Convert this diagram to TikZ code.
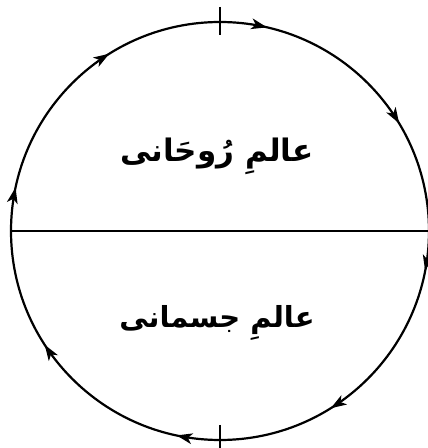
\documentclass[tikz,border=0pt]{standalone}
\usepackage{fontspec}
\newfontfamily\arabicfont[Script=Arabic]{DejaVu Sans}
\TeXXeTstate=1
\begin{document}
\begin{tikzpicture}[x=1pt,y=1pt,
  ring/.style={circle,draw,line width=2.2pt,minimum size=418pt,inner sep=0pt,outer sep=0pt},
  rule/.style={line width=1.6pt},
  headfill/.style={fill=black},
  urdu/.style={font=\arabicfont\bfseries\fontsize{31}{38}\selectfont,inner sep=0pt}]
\useasboundingbox (0,0) rectangle (428,448);
\node[ring] (c) at (220,217) {};
\draw[rule] (c.west) -- (c.east);
\draw[rule] ([yshift=15pt]c.north) -- ([yshift=-13pt]c.north);
\draw[rule] ([yshift=15pt]c.south) -- ([yshift=-12pt]c.south);
\foreach \a in {77,122,168,31,-11,-58,-102,-147}{
  \coordinate (tip) at (c.\a);
  \fill[headfill,shift={(tip)},rotate=\a-90] (0,0) -- (-16,5.5) -- (-11.5,0) -- (-16,-5.5) -- cycle;
}
\node[urdu] (t1) at (217,292) {\beginR عالمِ رُوحَانی\endR};
\node[urdu,font=\arabicfont\bfseries\fontsize{29}{36}\selectfont] (t2) at (217,125) {\beginR عالمِ جسمانی\endR};
\end{tikzpicture}
\end{document}
